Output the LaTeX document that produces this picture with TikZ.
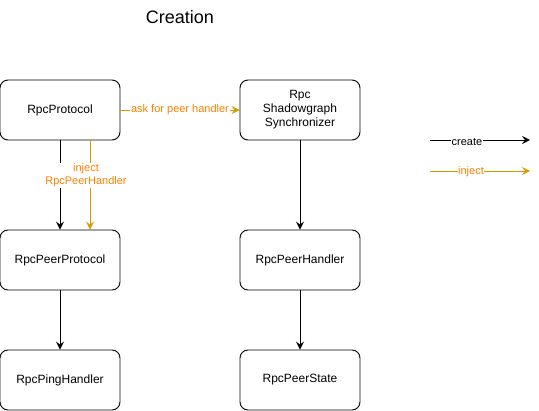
\documentclass[tikz,border=0pt]{standalone}
\usepackage{fontspec}
\setmainfont{Liberation Sans}
\usepackage{tikz}
\usetikzlibrary{arrows.meta}
\definecolor{injectline}{HTML}{D79B00}
\definecolor{injecttext}{HTML}{FF8000}

\begin{document}
\begin{tikzpicture}[x=1pt, y=-1pt,
  box/.style={draw, line width=0.9pt, rounded corners=8pt, minimum width=120pt, minimum height=60pt,
    align=center, inner sep=0pt, font=\fontsize{12}{14}\selectfont},
  create/.style={draw=black, line width=0.9pt, -{Stealth[length=8pt, width=8pt, inset=3pt]}},
  inject/.style={draw=injectline, line width=0.9pt, -{Stealth[length=8pt, width=8pt, inset=3pt]}},
  lbl/.style={fill=white, inner sep=1pt, align=center, text=injecttext, font=\fontsize{11}{13}\selectfont}]
\useasboundingbox (0,0) rectangle (539,411);
%
\node [font=\fontsize{18}{20}\selectfont] (title) at (180,17) {Creation};
%
\node [box] (proto)   at (60,110)  {RpcProtocol};
\node [box] (sync)    at (300,110) {Rpc\\Shadowgraph\\Synchronizer};
\node [box] (peer)    at (60,260)  {RpcPeerProtocol};
\node [box] (handler) at (300,260) {RpcPeerHandler};
\node [box] (ping)    at (60,380)  {RpcPingHandler};
\node [box] (state)   at (300,380) {RpcPeerState};
%
\draw [inject] (proto.east) -- node [lbl] {ask for peer handler} (sync.west);
\draw [create] (proto.south) -- (peer.north);
\draw [inject] ([xshift=30pt]proto.south) -- node [lbl, pos=0.39, xshift=-4pt] {inject\\RpcPeerHandler} ([xshift=30pt]peer.north);
\draw [create] (peer.south) -- (ping.north);
\draw [create] (sync.south) -- (handler.north);
\draw [create] (handler.south) -- (state.north);
%
\coordinate (createA) at (430,140);
\coordinate (createB) at (530,140);
\coordinate (injectA) at (430,171);
\coordinate (injectB) at (530,171);
\draw [create] (createA) -- node [lbl, text=black, pos=0.37, yshift=-2pt, inner sep=0.5pt] {create} (createB);
\draw [inject] (injectA) -- node [lbl, pos=0.41, yshift=-1pt, inner sep=0.5pt] {inject} (injectB);
%%%%%%%%%%%%%%%%%%%%%%%%%%%%%%%
\end{tikzpicture}
\end{document}
